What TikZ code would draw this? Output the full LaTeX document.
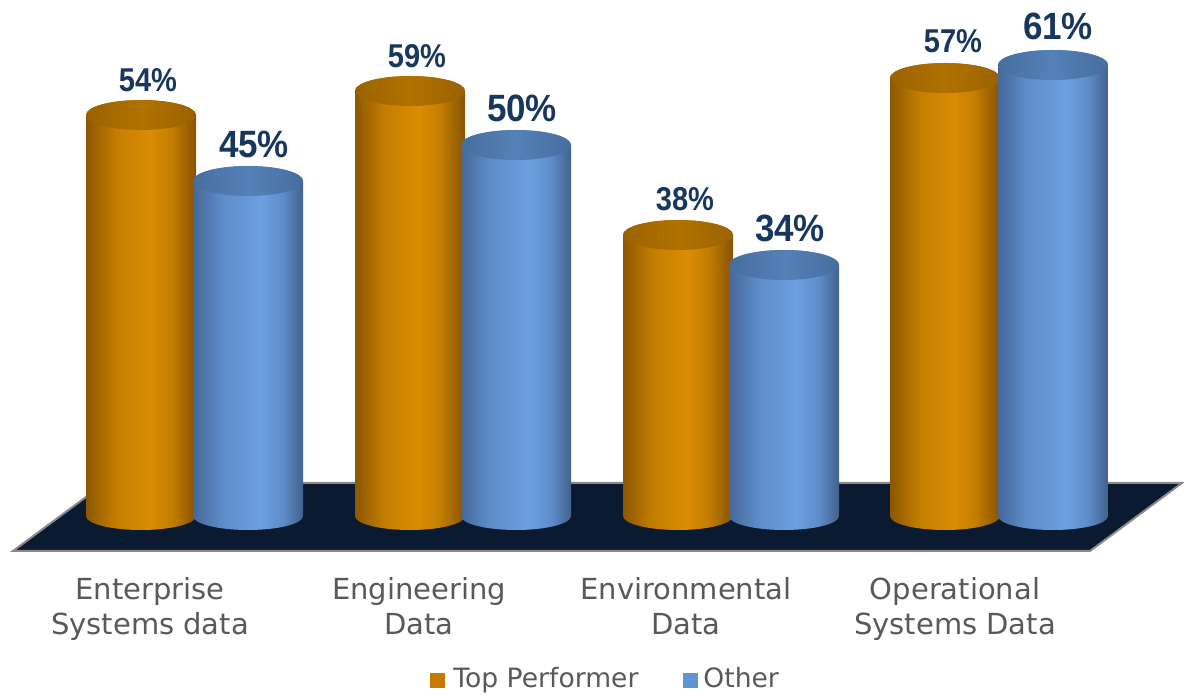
\documentclass[tikz,border=0pt]{standalone}
\usepackage{fontspec}
\setmainfont{DejaVu Sans}
\newfontfamily\valfontO{Liberation Sans}[FakeStretch=0.88]
\newfontfamily\valfontB{Liberation Sans}[FakeStretch=0.92]
\usetikzlibrary{shadings}
\definecolor{oEdgeL}{HTML}{8C5700}
\definecolor{oMid}{HTML}{C27D00}
\definecolor{oBright}{HTML}{DA8C03}
\definecolor{oEdgeR}{HTML}{875300}
\definecolor{oTopE}{HTML}{9A6200}
\definecolor{oTopM}{HTML}{B07200}
\definecolor{bEdgeL}{HTML}{46689A}
\definecolor{bMid}{HTML}{5D8CC8}
\definecolor{bBright}{HTML}{6CA0E0}
\definecolor{bEdgeR}{HTML}{43618C}
\definecolor{bTopE}{HTML}{466E9F}
\definecolor{bTopM}{HTML}{5581B8}
\definecolor{floorc}{HTML}{0A1A30}
\definecolor{flooredge}{HTML}{8A8A8A}
\definecolor{valc}{HTML}{17375E}
\definecolor{txtc}{HTML}{595959}
\definecolor{legO}{HTML}{C77A00}
\definecolor{legB}{HTML}{5F95D6}
\pgfdeclarehorizontalshading{obody}{100bp}{color(0bp)=(oEdgeL); color(25bp)=(oEdgeL); color(38bp)=(oMid); color(54bp)=(oBright); color(64bp)=(oMid); color(75bp)=(oEdgeR); color(100bp)=(oEdgeR)}
\pgfdeclarehorizontalshading{otop}{100bp}{color(0bp)=(oTopE); color(25bp)=(oTopE); color(50bp)=(oTopM); color(75bp)=(oTopE); color(100bp)=(oTopE)}
\pgfdeclarehorizontalshading{bbody}{100bp}{color(0bp)=(bEdgeL); color(25bp)=(bEdgeL); color(38bp)=(bMid); color(56bp)=(bBright); color(66bp)=(bMid); color(75bp)=(bEdgeR); color(100bp)=(bEdgeR)}
\pgfdeclarehorizontalshading{btop}{100bp}{color(0bp)=(bTopE); color(25bp)=(bTopE); color(50bp)=(bTopM); color(75bp)=(bTopE); color(100bp)=(bTopE)}
\newcommand\mycyl[4]{%
  \shade[shading=#3] (#1-55,#2) -- (#1-55,180) arc[start angle=180,end angle=360,x radius=55,y radius=14] -- (#1+55,#2) arc[start angle=0,end angle=180,x radius=55,y radius=15] -- cycle;
  \shade[shading=#4] (#1,#2) ellipse[x radius=55,y radius=15];
}
\tikzset{
  oval/.style={font=\valfontO\bfseries\fontsize{16.5}{19}\selectfont, text=valc, anchor=base, inner sep=0pt},
  bval/.style={font=\valfontB\bfseries\fontsize{19}{22}\selectfont, text=valc, anchor=base, inner sep=0pt},
  cat/.style={font=\fontsize{14.5}{18}\selectfont, text=txtc, anchor=base, inner sep=0pt},
  leg/.style={font=\fontsize{13.3}{16}\selectfont, text=txtc, anchor=base west, inner sep=0pt},
}
\begin{document}
\begin{tikzpicture}[x=0.5pt,y=0.5pt]
\useasboundingbox (0,0) rectangle (1184,696);
% floor
\fill[floorc] (13,145) -- (1090,145) -- (1182,213) -- (105,213) -- cycle;
\draw[flooredge, line width=1pt] (13,145) -- (1090,145) -- (1182,213) -- (105,213) -- cycle;
% cylinders
\mycyl{141}{581}{obody}{otop}
\mycyl{248}{515}{bbody}{btop}
\mycyl{410}{605}{obody}{otop}
\mycyl{516}{551}{bbody}{btop}
\mycyl{678}{461}{obody}{otop}
\mycyl{784}{431}{bbody}{btop}
\mycyl{945}{618}{obody}{otop}
\mycyl{1053}{631}{bbody}{btop}
% value labels
\node[oval] (v1) at (148,604) {54\%};
\node[bval] (v2) at (254,538) {45\%};
\node[oval] (v3) at (417,628) {59\%};
\node[bval] (v4) at (522,574) {50\%};
\node[oval] (v5) at (685,485) {38\%};
\node[bval] (v6) at (790,454) {34\%};
\node[oval] (v7) at (953,643) {57\%};
\node[bval] (v8) at (1058,656) {61\%};
% category labels
\node[cat] (c1a) at (150,96) {Enterprise};
\node[cat] (c1b) at (150,61) {Systems data};
\node[cat] (c2a) at (419,96) {Engineering};
\node[cat] (c2b) at (419,61) {Data};
\node[cat] (c3a) at (686,96) {Environmental};
\node[cat] (c3b) at (686,61) {Data};
\node[cat] (c4a) at (955,96) {Operational};
\node[cat] (c4b) at (955,61) {Systems Data};
% legend
\fill[legO] (430,8) rectangle (445,23);
\node[leg] (l1) at (453,8) {Top Performer};
\fill[legB] (683,8) rectangle (698,23);
\node[leg] (l2) at (703,8) {Other};
\end{tikzpicture}
\end{document}
